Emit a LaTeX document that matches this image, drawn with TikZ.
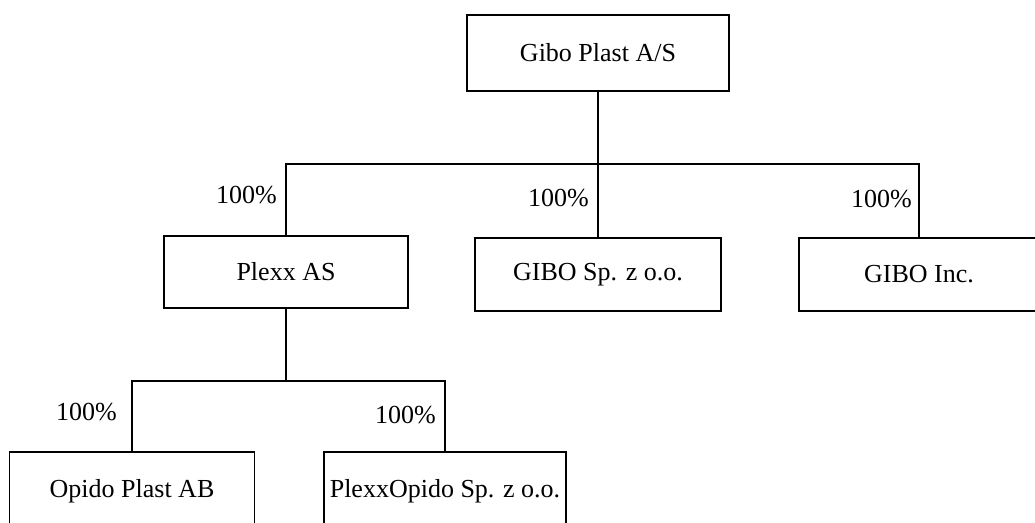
\documentclass[tikz,border=0pt]{standalone}
\usepackage{fontspec}
\setmainfont{Liberation Serif}
\begin{document}
\begin{tikzpicture}[x=1pt,y=-1pt,
  box/.style={draw=black,line width=1.7pt,rectangle,inner sep=0pt,
    font=\fontsize{26}{30}\selectfont},
  pct/.style={anchor=east,inner sep=0pt,font=\fontsize{26}{30}\selectfont},
  conn/.style={draw=black,line width=1.6pt}]
\clip (0,0) rectangle (1035,522);
\fill[white] (0,0) rectangle (1035,522);
\node[box,minimum width=262pt,minimum height=76pt] (top) at (598,53) {Gibo Plast A/S};
\node[box,minimum width=244pt,minimum height=72pt] (plexx) at (286,272) {Plexx AS};
\node[box,minimum width=246pt,minimum height=73pt] (gibosp) at (598,274.5) {GIBO Sp. z o.o.};
\node[box,minimum width=240pt,minimum height=73pt] (giboinc) at (919,274.5) {GIBO Inc.};
\node[box,minimum width=245pt,minimum height=78pt] (opido) at (132,491) {Opido Plast AB};
\node[box,minimum width=242pt,minimum height=78pt] (pxo) at (445,491) {PlexxOpido Sp. z o.o.};
\coordinate (bus) at (598,164);
\coordinate (bus2) at (286,381);
\draw[conn] (top.south) -- (gibosp.north);
\draw[conn] (plexx.north) -- (plexx.north |- bus) -- (giboinc.north |- bus) -- (giboinc.north);
\draw[conn] (plexx.south) -- (bus2);
\draw[conn] (opido.north) -- (opido.north |- bus2) -- (pxo.north |- bus2) -- (pxo.north);
\node[pct] (p1) at (277,195) {100\%};
\node[pct] (p2) at (589,198) {100\%};
\node[pct] (p3) at (912,199) {100\%};
\node[pct] (p4) at (117,412) {100\%};
\node[pct] (p5) at (436,415) {100\%};
\end{tikzpicture}
\end{document}
